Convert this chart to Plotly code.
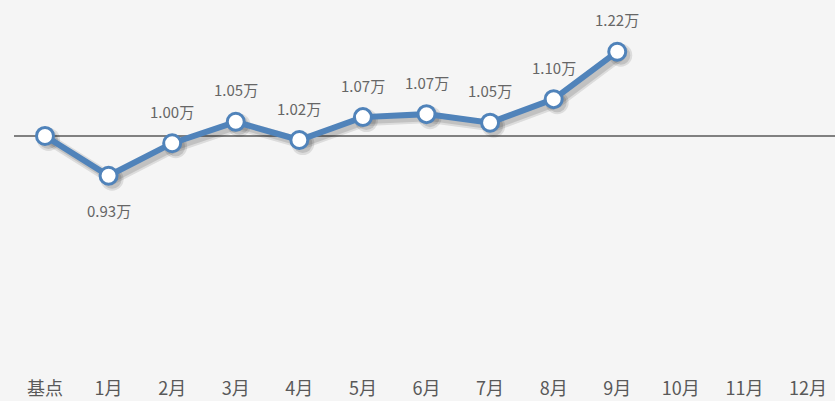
import plotly.graph_objects as go

categories = ["基点", "1月", "2月", "3月", "4月", "5月", "6月", "7月", "8月", "9月", "10月", "11月", "12月"]
values = [1.023, 0.93, 1.006, 1.056, 1.0135, 1.067, 1.074, 1.054, 1.109, 1.22]
labels = ["", "0.93万", "1.00万", "1.05万", "1.02万", "1.07万", "1.07万", "1.05万", "1.10万", "1.22万"]
label_side = [0, -1, 1, 1, 1, 1, 1, 1, 1, 1]
base_value = values[0]

W, H = 835, 401
mt, mb = 0, 30
plot_h = H - mt - mb
px_per_x = (808 - 45) / 12.0
x_range = [-45 / px_per_x, 12 + (W - 808) / px_per_x]
px_per_y = 427.6
y_top = 0.93 + 175.7 / px_per_y
y_range = [y_top - plot_h / px_per_y, y_top]

xs = list(range(len(values)))
BLUE = "#5083BA"
BG = "#f5f5f5"

fig = go.Figure()

# soft shadow on the base axes, shifted right/down
sdx = 3.5 / px_per_x
sdy = 3.5 / px_per_y
fig.add_trace(go.Scatter(
    x=xs, y=values, mode="lines+markers", xaxis="x", yaxis="y",
    line=dict(color="rgba(0,0,0,0.10)", width=11),
    marker=dict(size=23, color="rgba(0,0,0,0.10)"),
    hoverinfo="skip", showlegend=False,
))
fig.add_trace(go.Scatter(
    x=xs, y=values, mode="lines+markers", xaxis="x", yaxis="y",
    line=dict(color="rgba(0,0,0,0.12)", width=7),
    marker=dict(size=19, color="rgba(0,0,0,0.12)"),
    hoverinfo="skip", showlegend=False,
))

# main series on overlay axes with the true ranges (drawn on top)
fig.add_trace(go.Scatter(
    x=xs, y=values, mode="lines+markers", xaxis="x2", yaxis="y2",
    line=dict(color=BLUE, width=6),
    marker=dict(size=17, color="white", line=dict(color=BLUE, width=3)),
    showlegend=False,
))

for i, (v, t, s) in enumerate(zip(values, labels, label_side)):
    if not t:
        continue
    fig.add_annotation(
        x=i, y=v, xref="x2", yref="y2", text=t, showarrow=False,
        yshift=32 if s > 0 else -35,
        font=dict(size=15, color="#666666", family="Noto Sans CJK SC"),
    )

fig.add_shape(type="line", xref="paper", yref="y2", x0=14 / W, x1=1,
              y0=base_value, y1=base_value,
              line=dict(color="#808080", width=2), layer="below")

fig.update_layout(
    width=W, height=H,
    margin=dict(l=0, r=0, t=mt, b=mb),
    paper_bgcolor=BG,
    plot_bgcolor=BG,
    font=dict(family="Noto Sans CJK SC", color="#595959"),
    xaxis=dict(range=[x_range[0] - sdx, x_range[1] - sdx], visible=False,
               fixedrange=True),
    yaxis=dict(range=[y_range[0] + sdy, y_range[1] + sdy], visible=False,
               fixedrange=True),
    xaxis2=dict(
        range=x_range, overlaying="x", side="bottom", anchor="y2",
        tickmode="array", tickvals=list(range(len(categories))),
        ticktext=categories, showgrid=False, zeroline=False, showline=False,
        tickfont=dict(size=18, color="#595959"), ticklabelstandoff=5,
        fixedrange=True,
    ),
    yaxis2=dict(range=y_range, overlaying="y", visible=False, showgrid=False,
                fixedrange=True),
)

fig.write_html(
    "out.html",
    config={"displayModeBar": False},
    post_script="document.body.style.margin='0';document.body.style.overflow='hidden';",
)
